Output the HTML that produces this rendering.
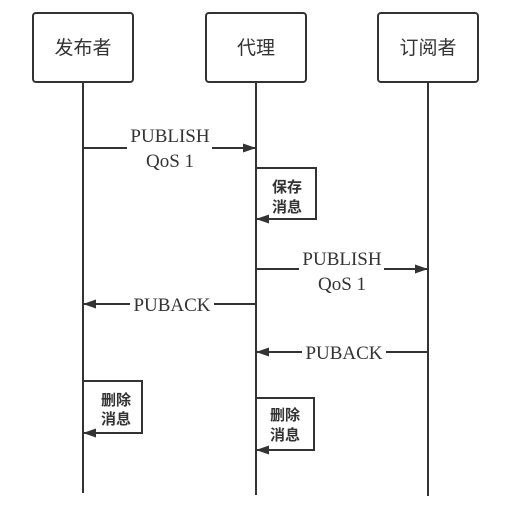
<!DOCTYPE html>
<html><head><meta charset="utf-8"><style>html,body{margin:0;padding:0;background:#fff}</style></head>
<body>
<svg width="511" height="511" xmlns="http://www.w3.org/2000/svg">
<defs><marker id="a" markerWidth="13" markerHeight="9" refX="12" refY="4.5" orient="auto" markerUnits="userSpaceOnUse"><path d="M0,0 L13,4.5 L0,9 z" fill="#333"/></marker></defs>
<g fill="#fff" stroke="#333" stroke-width="2">
<rect x="33" y="13" width="100" height="69" rx="3"/>
<rect x="206" y="13" width="100" height="69" rx="3"/>
<rect x="378" y="13" width="100" height="69" rx="3"/>
</g>
<g font-family="'Liberation Sans','Noto Sans CJK SC',sans-serif" font-size="19" fill="#333" text-anchor="middle">
<text x="83" y="54">发布者</text><text x="256" y="54">代理</text><text x="428" y="54">订阅者</text>
</g>
<g stroke="#333" stroke-width="2" fill="none">
<line x1="83" y1="82" x2="83" y2="493"/>
<line x1="256" y1="82" x2="256" y2="495"/>
<line x1="428" y1="82" x2="428" y2="496"/>
<line x1="83" y1="148" x2="127" y2="148"/><line x1="212" y1="148" x2="255" y2="148" marker-end="url(#a)"/>
<line x1="256" y1="269" x2="299" y2="269"/><line x1="384" y1="269" x2="427" y2="269" marker-end="url(#a)"/>
<line x1="256" y1="304" x2="214" y2="304"/><line x1="130" y1="304" x2="84" y2="304" marker-end="url(#a)"/>
<line x1="428" y1="352" x2="386" y2="352"/><line x1="302" y1="352" x2="257" y2="352" marker-end="url(#a)"/>
<polyline points="256,168 316,168 316,219 257,219" marker-end="url(#a)"/>
<polyline points="83,381 142,381 142,433 84,433" marker-end="url(#a)"/>
<polyline points="256,398 314,398 314,450 257,450" marker-end="url(#a)"/>
</g>
<g font-family="'Liberation Serif',serif" font-size="19" fill="#333" text-anchor="middle">
<text x="170" y="142">PUBLISH</text><text x="170" y="167">QoS 1</text>
<text x="342" y="265">PUBLISH</text><text x="342" y="290">QoS 1</text>
<text x="172" y="311">PUBACK</text>
<text x="344" y="359">PUBACK</text>
</g>
<g font-family="'Noto Sans CJK SC',sans-serif" font-size="15" font-weight="bold" fill="#333" text-anchor="middle">
<text x="287" y="192">保存</text><text x="287" y="212">消息</text>
<text x="116" y="405">删除</text><text x="116" y="424">消息</text>
<text x="285" y="420">删除</text><text x="285" y="440">消息</text>
</g>
</svg>
</body></html>
